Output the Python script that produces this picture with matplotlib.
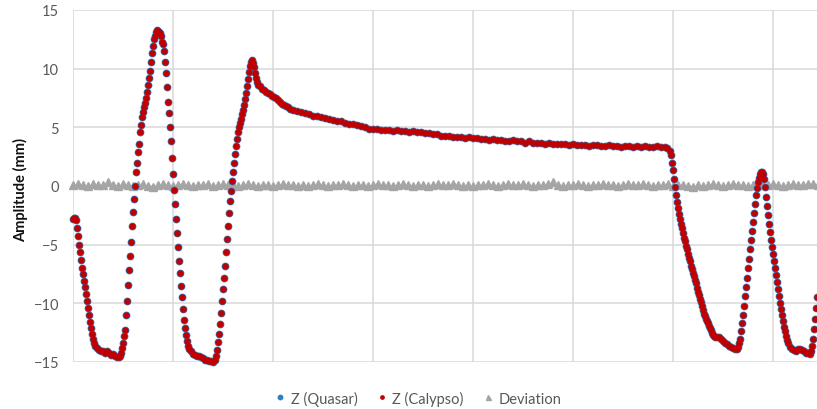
import matplotlib
matplotlib.use("Agg")
import matplotlib.pyplot as plt
from matplotlib.lines import Line2D

plt.rcParams['font.family'] = ['Lato', 'DejaVu Sans']

# sample time (arbitrary units, one grid cell = 100) and Z amplitude in mm
t_calypso = [
    0, 1, 2, 3, 4, 5, 6, 7, 8, 9,
    10, 11, 12, 13, 14, 15, 16, 17, 18, 19,
    20, 21, 22, 24, 26, 28, 30, 32, 34, 36,
    38, 40, 42, 44, 46, 47, 48, 49, 50, 51,
    52, 53, 54, 55, 56, 57, 58, 59, 60, 61,
    62, 63, 64, 65, 66, 67, 68, 69, 70, 71,
    72, 73, 74, 75, 76, 77, 78, 79, 80, 81,
    82, 83, 84, 85, 86, 87, 88, 89, 90, 91,
    92, 93, 94, 95, 96, 97, 98, 99, 100, 101,
    102, 103, 104, 105, 106, 107, 108, 109, 110, 111,
    112, 113, 114, 115, 116, 118, 120, 122, 124, 126,
    128, 130, 132, 134, 136, 138, 140, 142, 143, 144,
    145, 146, 147, 148, 149, 150, 151, 152, 153, 154,
    155, 156, 157, 158, 159, 160, 161, 162, 163, 164,
    165, 166, 167, 168, 169, 170, 171, 172, 173, 174,
    175, 176, 177, 178, 179, 180, 181, 182, 183, 184,
    185, 187, 189, 191, 193, 195, 197, 199, 201, 203,
    205, 207, 209, 211, 213, 215, 217, 220, 224, 228,
    232, 236, 240, 244, 248, 252, 256, 260, 264, 268,
    272, 276, 280, 284, 288, 292, 296, 300, 304, 308,
    312, 316, 320, 324, 328, 332, 336, 340, 344, 348,
    352, 356, 360, 364, 368, 372, 376, 380, 384, 388,
    392, 396, 400, 404, 408, 412, 416, 420, 424, 428,
    432, 436, 440, 444, 448, 452, 456, 460, 464, 468,
    472, 476, 480, 484, 488, 492, 496, 500, 504, 508,
    512, 516, 520, 524, 528, 532, 536, 540, 544, 548,
    552, 556, 560, 564, 568, 572, 576, 580, 584, 588,
    592, 594, 597, 598, 599, 600, 601, 602, 603, 604,
    605, 606, 607, 608, 609, 610, 611, 612, 613, 614,
    615, 616, 617, 618, 619, 620, 621, 622, 623, 624,
    625, 626, 627, 628, 629, 630, 631, 632, 633, 634,
    635, 636, 637, 638, 639, 640, 641, 642, 644, 646,
    648, 650, 652, 654, 656, 658, 660, 662, 664, 665,
    666, 667, 668, 669, 670, 671, 672, 673, 674, 675,
    676, 677, 678, 679, 680, 681, 682, 683, 684, 685,
    686, 687, 688, 689, 690, 691, 692, 693, 694, 695,
    696, 697, 698, 699, 700, 701, 702, 703, 704, 705,
    706, 707, 708, 709, 710, 711, 712, 713, 714, 715,
    717, 719, 721, 723, 725, 727, 729, 731, 733, 735,
    737, 738, 739, 740, 741, 742, 743, 744,
]
z_calypso = [
    -2.8, -2.7, -2.7, -2.9, -3.6, -4.3, -5.0, -5.6, -6.3, -7.0,
    -7.5, -8.1, -8.6, -9.2, -9.8, -10.4, -11.0, -11.6, -12.1, -12.6,
    -13.0, -13.4, -13.6, -13.8, -14.0, -14.1, -14.1, -14.2, -14.1, -14.2,
    -14.4, -14.3, -14.5, -14.6, -14.6, -14.5, -14.2, -13.8, -13.4, -12.8,
    -12.3, -11.0, -9.8, -8.4, -7.2, -6.0, -4.8, -3.4, -2.2, -1.1,
    0.0, 1.2, 2.0, 2.9, 3.6, 4.6, 5.2, 5.9, 6.3, 6.7,
    7.1, 7.5, 8.0, 8.6, 9.2, 9.8, 10.6, 11.3, 11.9, 12.5,
    12.8, 13.1, 13.3, 13.2, 13.1, 13.0, 12.8, 12.3, 12.1, 11.5,
    10.6, 9.6, 8.4, 7.2, 6.2, 5.0, 3.8, 2.4, 1.0, -0.3,
    -1.5, -2.8, -4.0, -5.2, -6.4, -7.4, -8.5, -9.5, -10.5, -11.4,
    -12.1, -12.7, -13.2, -13.6, -13.9, -14.1, -14.3, -14.4, -14.5, -14.5,
    -14.6, -14.7, -14.8, -14.8, -14.9, -14.9, -15.0, -14.8, -14.5, -14.0,
    -13.3, -12.6, -11.8, -10.8, -9.8, -8.8, -7.8, -6.8, -5.6, -4.5,
    -3.4, -2.3, -1.3, -0.4, 0.4, 1.2, 2.0, 2.7, 3.4, 4.0,
    4.6, 5.0, 5.4, 5.7, 6.1, 6.5, 6.9, 7.4, 7.9, 8.5,
    9.1, 9.7, 10.2, 10.6, 10.7, 10.5, 10.1, 9.6, 9.2, 8.9,
    8.6, 8.5, 8.3, 8.2, 8.0, 7.9, 7.8, 7.7, 7.6, 7.5,
    7.3, 7.2, 7.0, 6.9, 6.8, 6.7, 6.6, 6.5, 6.4, 6.3,
    6.2, 6.1, 6.0, 6.0, 5.9, 5.8, 5.7, 5.6, 5.5, 5.5,
    5.4, 5.3, 5.3, 5.2, 5.1, 5.0, 4.9, 4.9, 4.9, 4.8,
    4.8, 4.8, 4.7, 4.8, 4.7, 4.7, 4.6, 4.7, 4.6, 4.6,
    4.5, 4.5, 4.4, 4.4, 4.3, 4.3, 4.3, 4.2, 4.2, 4.2,
    4.1, 4.2, 4.1, 4.1, 4.0, 4.0, 3.9, 4.0, 3.9, 3.9,
    3.8, 3.8, 3.9, 3.8, 3.8, 3.7, 3.8, 3.7, 3.7, 3.7,
    3.6, 3.7, 3.6, 3.6, 3.6, 3.6, 3.5, 3.6, 3.5, 3.5,
    3.5, 3.4, 3.5, 3.5, 3.4, 3.4, 3.5, 3.4, 3.4, 3.3,
    3.4, 3.4, 3.3, 3.4, 3.3, 3.4, 3.3, 3.3, 3.4, 3.3,
    3.3, 3.2, 3.0, 2.6, 2.0, 1.4, 0.6, -0.1, -0.8, -1.4,
    -1.9, -2.4, -2.8, -3.2, -3.6, -4.0, -4.4, -4.7, -5.1, -5.4,
    -5.8, -6.1, -6.4, -6.8, -7.1, -7.4, -7.7, -8.0, -8.3, -8.7,
    -9.0, -9.3, -9.6, -9.9, -10.2, -10.6, -10.9, -11.1, -11.3, -11.5,
    -11.7, -11.9, -12.1, -12.3, -12.5, -12.7, -12.8, -12.9, -12.9, -12.9,
    -13.0, -13.2, -13.4, -13.5, -13.6, -13.7, -13.8, -13.9, -13.9, -13.7,
    -13.4, -13.0, -12.4, -11.7, -11.0, -10.2, -9.4, -8.6, -7.8, -7.0,
    -6.2, -5.4, -4.6, -3.8, -3.1, -2.3, -1.5, -0.8, -0.2, 0.3,
    0.7, 1.0, 1.2, 1.2, 1.0, 0.6, -0.1, -0.9, -1.7, -2.5,
    -3.2, -3.9, -4.6, -5.2, -5.8, -6.4, -7.0, -7.6, -8.2, -8.8,
    -9.4, -10.0, -10.5, -11.0, -11.5, -12.0, -12.4, -12.8, -13.1, -13.4,
    -13.7, -13.9, -14.0, -14.1, -13.9, -13.9, -14.0, -14.1, -14.2, -14.2,
    -14.3, -14.1, -13.6, -13.0, -12.2, -11.3, -10.4, -9.5,
]
# Quasar tracks Calypso almost exactly
t_quasar = t_calypso
z_quasar = z_calypso

t_dev = list(range(0, 750, 5))
z_dev = [
    0.1, 0.2, 0.1, 0.0, 0.2, 0.1, 0.1, 0.3, 0.1, 0.0,
    0.2, 0.1, 0.0, 0.1, 0.2, 0.0, -0.1, 0.1, 0.2, 0.1,
    0.0, 0.1, 0.2, 0.1, 0.0, 0.1, 0.1, 0.2, 0.0, 0.1,
    0.2, 0.1, 0.1, 0.0, 0.1, 0.2, 0.1, 0.0, 0.1, 0.1,
    0.0, 0.1, 0.2, 0.1, 0.1, 0.0, 0.1, 0.0, 0.1, 0.2,
    0.1, 0.0, 0.1, 0.1, 0.2, 0.1, 0.0, 0.1, 0.1, 0.0,
    0.1, 0.2, 0.1, 0.1, 0.0, 0.1, 0.2, 0.1, 0.0, 0.1,
    0.1, 0.0, 0.1, 0.2, 0.1, 0.1, 0.2, 0.1, 0.0, 0.1,
    0.0, 0.1, 0.1, 0.2, 0.1, 0.0, 0.1, 0.2, 0.1, 0.1,
    0.2, 0.1, 0.0, 0.1, 0.1, 0.2, 0.3, 0.1, 0.0, 0.1,
    0.1, 0.2, 0.1, 0.0, 0.1, 0.1, 0.2, 0.1, 0.1, 0.0,
    0.1, 0.2, 0.1, 0.1, 0.2, 0.1, 0.0, 0.1, 0.1, 0.2,
    0.0, 0.1, 0.1, 0.0, -0.1, 0.1, 0.0, 0.1, 0.2, 0.1,
    0.0, 0.1, 0.2, 0.1, 0.1, 0.0, 0.1, 0.2, 0.1, 0.1,
    0.2, 0.1, 0.0, 0.1, 0.2, 0.1, 0.1, 0.2, 0.2, 0.1,
]
assert len(t_calypso) == len(z_calypso)
assert len(t_dev) == len(z_dev)

blue = '#2E82C3'
red = '#C00000'
grey = '#A5A5A5'
txt = '#595959'

fig = plt.figure(figsize=(8.17, 4.10), dpi=100)
ax = fig.add_axes([73/817, 1 - 363/410, 1 - 73/817, 352/410])

ax.plot(t_dev, z_dev, ls='none', marker='^', ms=5.2, color=grey, mec=grey, clip_on=False)
ax.plot(t_quasar, z_quasar, ls='none', marker='o', ms=4.6, color=blue, mec=blue, clip_on=False)
ax.plot(t_calypso, z_calypso, ls='none', marker='o', ms=3.6, color=red, mec=red, clip_on=False)

ax.set_xlim(0, 744)
ax.set_ylim(-15, 15)
ax.set_xticks(range(0, 800, 100))
ax.set_xticklabels([])
ax.set_yticks(range(-15, 16, 5))
ax.tick_params(length=0, labelsize=10.5, labelcolor=txt, pad=10)
ax.grid(True, color='#D9D9D9', lw=1.1)
ax.set_axisbelow(True)
for s in ax.spines.values():
    s.set_visible(False)

fig.text(21/817, 1 - 190/410, 'Amplitude (mm)', rotation=90, ha='center', va='center',
         fontsize=10.5, fontweight='bold', color='#111111')

handles = [
    Line2D([], [], ls='none', marker='o', ms=3.2, color=blue),
    Line2D([], [], ls='none', marker='o', ms=2.4, color=red),
    Line2D([], [], ls='none', marker='^', ms=3.6, color=grey),
]
fig.legend(handles, ['Z (Quasar)', 'Z (Calypso)', 'Deviation'], loc='center',
           bbox_to_anchor=(418/817, 1 - 399/410), ncol=3, frameon=False,
           fontsize=10.5, labelcolor=txt, handlelength=0.8, handletextpad=0.3,
           columnspacing=1.3)

fig.savefig('out.png', dpi=100)
